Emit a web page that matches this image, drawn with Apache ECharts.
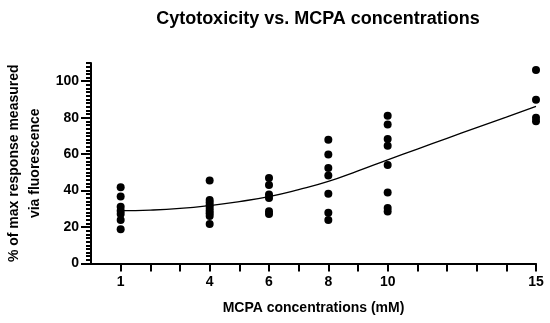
<!DOCTYPE html>
<html>
<head>
<meta charset="utf-8">
<script src="https://cdn.jsdelivr.net/npm/echarts@6/dist/echarts.min.js"></script>
<style>html,body{margin:0;padding:0;background:#fff}#c{width:550px;height:323px}</style>
</head>
<body>
<div id="c"></div>
<script>
const xLabels = [1, 4, 6, 8, 10, 15];
const yLabels = [0, 20, 40, 60, 80, 100];
const conc1 = [41.9, 36.7, 31.2, 29.0, 27.2, 23.9, 18.8];
const conc4 = [45.5, 34.9, 33.4, 32.0, 30.5, 29.0, 27.6, 26.1, 21.7];
const conc6 = [46.9, 43.0, 37.8, 36.0, 28.7, 27.2];
const conc8 = [67.9, 59.8, 52.4, 48.3, 38.2, 27.9, 23.9];
const conc10 = [81.1, 76.2, 68.3, 64.6, 54.0, 38.9, 30.4, 28.5];
const conc15 = [106.1, 89.9, 79.9, 78.0];
const fitX = [1,2,3,4,5,6,7,8,9,10,11,12,13,14,15];
const fitY = [29.0, 29.3, 30.2, 31.8, 34.0, 36.7, 40.5, 45.0, 50.8, 56.9, 62.8, 68.7, 74.5, 80.3, 86.2];

const groups = [[1, conc1], [4, conc4], [6, conc6], [8, conc8], [10, conc10], [15, conc15]];
const points = [];
groups.forEach(g => g[1].forEach(v => points.push([g[0], v])));
const fit = fitX.map((x, i) => [x, fitY[i]]);

const font = 'Liberation Sans, Arial, sans-serif';
const chart = echarts.init(document.getElementById('c'));
chart.setOption({
  animation: false,
  title: {
    text: 'Cytotoxicity vs. MCPA concentrations',
    left: 313, top: 5, textAlign: 'center',
    textStyle: { fontFamily: font, fontWeight: 'bold', fontSize: 18, color: '#000' }
  },
  grid: { left: 91, right: 14, top: 63, bottom: 59.5, containLabel: false, outerBoundsMode: 'none' },
  xAxis: {
    type: 'value', min: 0, max: 15, interval: 1,
    name: 'MCPA concentrations (mM)', nameLocation: 'middle', nameGap: 38,
    nameTextStyle: { fontFamily: font, fontWeight: 'bold', fontSize: 14, color: '#000' },
    axisLine: { onZero: false, lineStyle: { color: '#000', width: 2 } },
    axisTick: { show: true, length: 8, lineStyle: { color: '#000', width: 2 } },
    axisLabel: {
      margin: 12, fontFamily: font, fontWeight: 'bold', fontSize: 14, color: '#000',
      showMinLabel: false,
      formatter: v => (xLabels.indexOf(v) >= 0 ? String(v) : '')
    },
    splitLine: { show: false }
  },
  yAxis: [{
    type: 'value', min: 0, max: 110, interval: 2,
    name: '% of max response measured\nvia fluorescence', nameLocation: 'middle', nameGap: 45,
    nameTextStyle: { fontFamily: font, fontWeight: 'bold', fontSize: 14, color: '#000', lineHeight: 21 },
    axisLine: { show: true, onZero: false, lineStyle: { color: '#000', width: 2 } },
    axisTick: { show: true, length: 5, lineStyle: { color: '#000', width: 2 } },
    axisLabel: { show: false },
    splitLine: { show: false }
  }, {
    type: 'value', min: 0, max: 110, interval: 20, position: 'left',
    axisLine: { show: false },
    axisTick: { show: true, length: 10, lineStyle: { color: '#000', width: 2 } },
    axisLabel: {
      margin: 12, fontFamily: font, fontWeight: 'bold', fontSize: 14, color: '#000',
      showMaxLabel: false,
      formatter: v => (yLabels.indexOf(v) >= 0 ? String(v) : '')
    },
    splitLine: { show: false }
  }],
  series: [{
    type: 'line', data: fit, smooth: true, showSymbol: false,
    lineStyle: { color: '#000', width: 1.3 }, z: 2
  }, {
    type: 'scatter', data: points, symbolSize: 8,
    itemStyle: { color: '#000', opacity: 1 }, z: 3
  }]
});
</script>
</body>
</html>
